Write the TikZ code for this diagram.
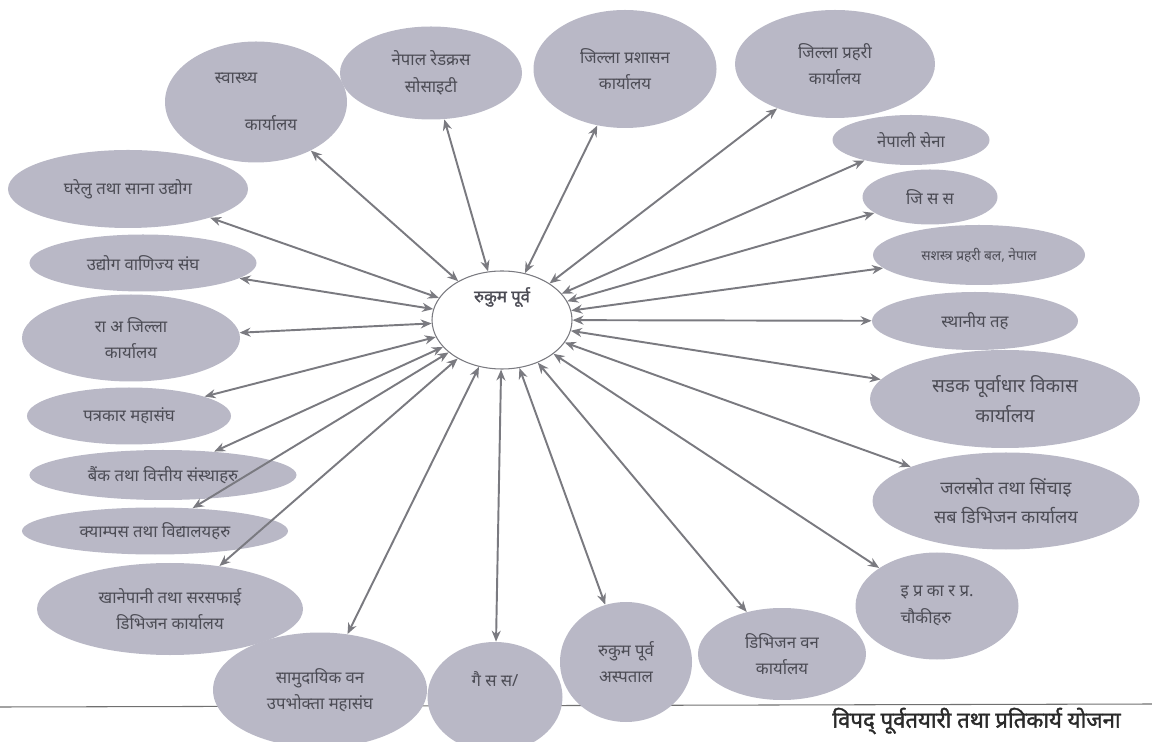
\documentclass[tikz,border=0pt]{standalone}
\usepackage{fontspec}
\usepackage{xcolor}
\usepackage{tikz}
\usetikzlibrary{
  arrows.meta,
  shapes.geometric,
  positioning
}
\newfontfamily\deva[Script=Devanagari]{Noto Sans}
\newfontfamily\devabold[Script=Devanagari, FakeBold=1.6]{Noto Sans}
\definecolor{rkFill}{HTML}{B9B8C6}
\definecolor{rkInk}{HTML}{4C4C55}
\definecolor{rkLink}{HTML}{7A7A80}
\definecolor{rkRule}{HTML}{707070}
\definecolor{rkFoot}{HTML}{2A2A2A}
\tikzset{
  rknode/.style={
    ellipse, fill=rkFill, inner sep=0pt, align=center, text=rkInk,
    font=\deva\fontsize{9.5}{15}\selectfont
  },
  hub/.style={ellipse, draw=rkLink, fill=white, line width=0.6pt, inner sep=0pt},
  link/.style={{Stealth[length=2.2mm,width=1.8mm]}-{Stealth[length=2.2mm,width=1.8mm]},
    line width=1.1pt, rkLink},
  rule/.style={line width=0.6pt, rkRule},
  foot/.style={font=\devabold\fontsize{12.6}{14}\selectfont, text=rkFoot, inner sep=0pt}
}

\begin{document}
\begin{tikzpicture}[x=0.2mm, y=-0.2mm]
  \useasboundingbox (0,0) rectangle (1152,742);
  % footer rule, behind the ellipses
  \coordinate (ruleL) at (0,707);
  \coordinate (ruleR) at (1152,704);
  \draw[rule] (ruleL) -- (ruleR);

  \node[hub, minimum width=28mm, minimum height=19.6mm,
    label={[yshift=4.6mm, font=\devabold\fontsize{9.5}{11}\selectfont, text=rkInk]center:रुकुम पूर्व}]
    (hub) at (502,320) {};

  % top arc
  \node[rknode, minimum width=36.4mm, minimum height=24.2mm, align=left] (hlth) at (256,102)
    {स्वास्थ्य\\[4mm]\hspace*{6mm}कार्यालय};
  \node[rknode, minimum width=36.4mm, minimum height=18.6mm] (redx) at (431,73) {नेपाल रेडक्रस\\सोसाइटी};
  \node[rknode, minimum width=36.6mm, minimum height=23.6mm] (dao) at (625,69) {जिल्ला प्रशासन\\कार्यालय};
  \node[rknode, minimum width=40mm, minimum height=21.6mm] (dpo) at (835,64) {जिल्ला प्रहरी\\कार्यालय};

  % right side
  \node[rknode, minimum width=31.4mm, minimum height=10mm] (army) at (911,140) {नेपाली सेना};
  \node[rknode, minimum width=27mm, minimum height=11mm] (dcc) at (930,197) {जि स स};
  \node[rknode, minimum width=42.4mm, minimum height=12mm, font=\deva\fontsize{7.8}{12}\selectfont]
    (apf) at (979,255) {सशस्त्र प्रहरी बल, नेपाल};
  \node[rknode, minimum width=41.2mm, minimum height=11.6mm] (local) at (975,321) {स्थानीय तह};
  \node[rknode, minimum width=54mm, minimum height=19.6mm, font=\deva\fontsize{10.8}{17}\selectfont]
    (road) at (1005,399) {सडक पूर्वाधार विकास\\कार्यालय};
  \node[rknode, minimum width=53.4mm, minimum height=19.4mm, font=\deva\fontsize{10.3}{17}\selectfont]
    (water) at (1006,501) {जलस्रोत तथा सिंचाइ\\सब डिभिजन कार्यालय};
  \node[rknode, minimum width=32.6mm, minimum height=21.4mm, align=left] (police) at (937,606)
    {इ प्र का र प्र.\\चौकीहरु};

  % bottom arc
  \node[rknode, minimum width=33.6mm, minimum height=18.4mm] (forest) at (782,654) {डिभिजन वन\\कार्यालय};
  \node[rknode, minimum width=26.4mm, minimum height=24mm] (hosp) at (626,662) {रुकुम पूर्व\\अस्पताल};
  \node[rknode, minimum width=27mm, minimum height=22mm] (ngo) at (495,697) {गै स स/\\[2mm]};
  \node[rknode, minimum width=42.8mm, minimum height=23mm] (cfug) at (320,690) {सामुदायिक वन\\उपभोक्ता महासंघ};

  % left side
  \node[rknode, minimum width=53.2mm, minimum height=18.4mm] (wash) at (170,609) {खानेपानी तथा सरसफाई\\डिभिजन कार्यालय};
  \node[rknode, minimum width=53.2mm, minimum height=9.4mm] (school) at (155,531) {क्याम्पस तथा विद्यालयहरु};
  \node[rknode, minimum width=53.4mm, minimum height=10mm] (bank) at (163,475) {बैंक तथा वित्तीय संस्थाहरु};
  \node[rknode, minimum width=40.8mm, minimum height=11.4mm] (press) at (129,416) {पत्रकार महासंघ};
  \node[rknode, minimum width=43.6mm, minimum height=17.4mm] (nid) at (131,338) {रा अ जिल्ला\\कार्यालय};
  \node[rknode, minimum width=45.4mm, minimum height=11.4mm] (fncci) at (143,263) {उद्योग वाणिज्य संघ};
  \node[rknode, minimum width=48mm, minimum height=15.6mm] (cottage) at (128,189) {घरेलु तथा साना उद्योग};

  \draw[link] (hub) -- (hlth);
  \draw[link] (hub) -- (redx);
  \draw[link] (hub) -- (dao);
  \draw[link] (hub) -- (dpo);
  \draw[link] (hub) -- (army);
  \draw[link] (hub) -- (dcc);
  \draw[link] (hub) -- (apf);
  \draw[link] (hub) -- (local);
  \draw[link] (hub) -- (road);
  \draw[link] (hub) -- (water);
  \draw[link] (hub) -- (police);
  \draw[link] (hub) -- (forest);
  \draw[link] (hub) -- (hosp);
  \draw[link] (hub) -- (ngo);
  \draw[link] (hub) -- (cfug);
  \draw[link] (hub) -- (wash);
  \draw[link] (hub) -- (school);
  \draw[link] (hub) -- (bank);
  \draw[link] (hub) -- (press);
  \draw[link] (hub) -- (nid);
  \draw[link] (hub) -- (fncci);
  \draw[link] (hub) -- (cottage);

  \node[foot, anchor=west] (title) at (832,721) {विपद् पूर्वतयारी तथा प्रतिकार्य योजना};
\end{tikzpicture}
\end{document}
